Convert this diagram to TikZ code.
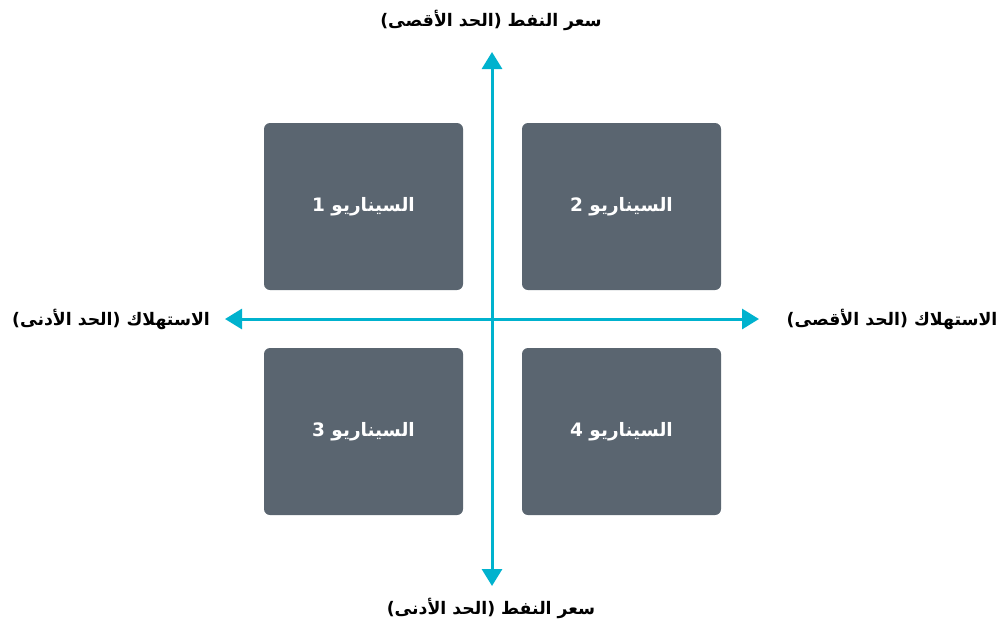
\documentclass[tikz,border=0pt]{standalone}
\usepackage{fontspec}
\usetikzlibrary{arrows.meta}
\TeXXeTstate=1
\newfontfamily\arabicfont[Script=Arabic]{DejaVu Sans}
\definecolor{axiscol}{RGB}{0,178,206}
\definecolor{boxcol}{RGB}{90,101,112}
\tikzset{
  scenbox/.style={rectangle, rounded corners=6pt, fill=boxcol, minimum width=199pt, minimum height=167pt, inner sep=0pt, text=white, font=\arabicfont\bfseries\fontsize{18.5}{22}\selectfont},
  axlabel/.style={inner sep=0pt, text=black, font=\arabicfont\bfseries\fontsize{17.3}{20}\selectfont},
  axis/.style={draw=axiscol, line width=3pt, {Triangle[width=20pt,length=17pt]}-{Triangle[width=20pt,length=17pt]}}
}
\begin{document}
\begin{tikzpicture}[x=1pt,y=-1pt]
\useasboundingbox (0,0) rectangle (1000,630);
\node[scenbox] (s1) at (363.5,206.5) {\beginR السيناريو 1\endR};
\node[scenbox] (s2) at (621.5,206.5) {\beginR السيناريو 2\endR};
\node[scenbox] (s3) at (363.5,431.5) {\beginR السيناريو 3\endR};
\node[scenbox] (s4) at (621.5,431.5) {\beginR السيناريو 4\endR};
\node[axlabel] (ltop) at (491,20) {\beginR سعر النفط (الحد الأقصى)\endR};
\node[axlabel] (lbot) at (491,608) {\beginR سعر النفط (الحد الأدنى)\endR};
\node[axlabel] (lleft) at (111,319) {\beginR الاستهلاك (الحد الأدنى)\endR};
\node[axlabel] (lright) at (892,319) {\beginR الاستهلاك (الحد الأقصى)\endR};
\coordinate (atop) at (492,52);
\coordinate (abot) at (492,586);
\coordinate (aleft) at (225,319);
\coordinate (aright) at (759,319);
\draw[axis] (abot) -- (atop);
\draw[axis] (aleft) -- (aright);
\end{tikzpicture}
\end{document}
